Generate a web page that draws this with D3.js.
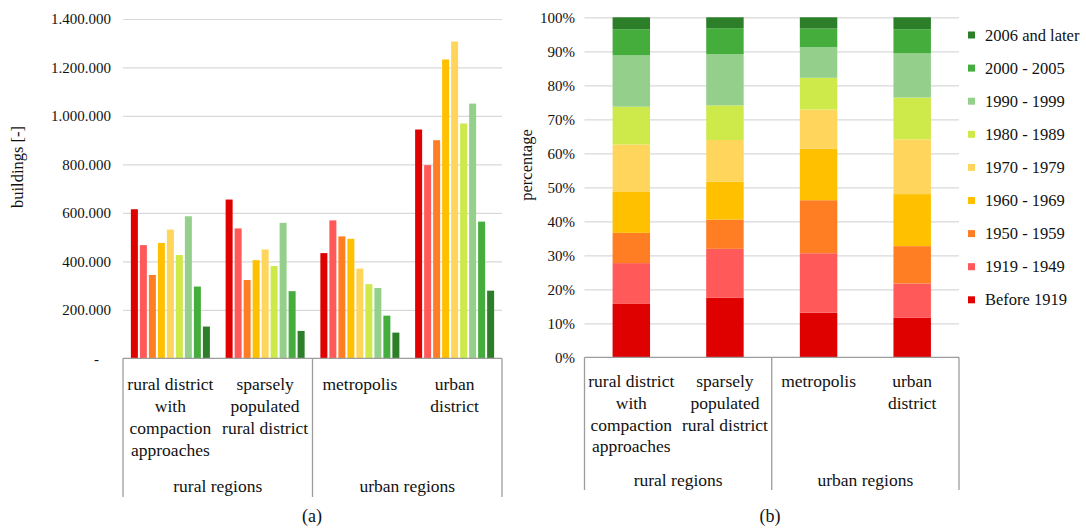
<html>
<head>
<meta charset="utf-8">
<title>Buildings by construction period</title>
<script src="https://cdn.jsdelivr.net/npm/d3@7"></script>
<style>
  body { margin: 0; background: #fff; }
  text { font-family: "Liberation Serif", "DejaVu Serif", serif; fill: #111; }
  .grid line { stroke: #d9d9d9; stroke-width: 1.2; }
  .grid path { stroke: none; }
  .ticks path, .ticks line { stroke: none; }
  .frame { stroke: #9d9d9d; stroke-width: 1.3; fill: none; }
</style>
</head>
<body>
<script>
// ---- data ----
var periods = ["Before 1919","1919 - 1949","1950 - 1959","1960 - 1969","1970 - 1979","1980 - 1989","1990 - 1999","2000 - 2005","2006 and later"];
var periodColors = ["#df0000","#ff5959","#ff7e24","#ffc000","#ffd65b","#cde94a","#94d08b","#45ad3c","#2c7e29"];
var regions = ["rural district with compaction approaches","sparsely populated rural district","metropolis","urban district"];
var regionLines = [["rural district","with","compaction","approaches"],["sparsely","populated","rural district"],["metropolis"],["urban","district"]];
var regionGroups = ["rural regions","urban regions"];

// buildings [-] per period (a)
var ruralCompaction = [615000, 467000, 344000, 476000, 531000, 426000, 586000, 296000, 131000];
var sparselyPopulated = [655000, 536000, 323000, 405000, 449000, 381000, 559000, 277000, 113000];
var metropolis = [434000, 569000, 503000, 493000, 370000, 306000, 290000, 176000, 106000];
var urbanDistrict = [944000, 797000, 900000, 1233000, 1307000, 969000, 1051000, 564000, 279000];

// percentage per period (b)
var shareRuralCompaction = [15.7, 12.0, 8.9, 12.2, 13.8, 11.1, 15.1, 7.7, 3.5];
var shareSparselyPopulated = [17.5, 14.4, 8.6, 11.2, 12.2, 10.2, 15.1, 7.6, 3.2];
var shareMetropolis = [13.1, 17.5, 15.6, 15.2, 11.5, 9.3, 9.0, 5.5, 3.3];
var shareUrbanDistrict = [11.6, 10.1, 11.0, 15.3, 16.1, 12.3, 13.0, 7.1, 3.5];

var yTicksA = [0, 200000, 400000, 600000, 800000, 1000000, 1200000, 1400000];
var yTicksB = [0, 0.1, 0.2, 0.3, 0.4, 0.5, 0.6, 0.7, 0.8, 0.9, 1.0];

var counts = [ruralCompaction, sparselyPopulated, metropolis, urbanDistrict];
var shares = [shareRuralCompaction, shareSparselyPopulated, shareMetropolis, shareUrbanDistrict];

var width = 1086, height = 532;
var svg = d3.select("body").append("svg").attr("width", width).attr("height", height);
var serif = "'Liberation Serif', 'DejaVu Serif', serif";

var color = d3.scaleOrdinal().domain(periods).range(periodColors);
var deFormat = d3.formatLocale({decimal: ",", thousands: ".", grouping: [3], currency: ["", ""]}).format(",.0f");

/************* (a) grouped bars *************/
var A = {left: 123, right: 502, top: 19, bottom: 358.3};
var x0 = d3.scaleBand().domain(regions).range([A.left, A.right]);
var x1 = d3.scaleBand().domain(periods).range([0, 79]).paddingInner(2 / 9);
var yA = d3.scaleLinear().domain([0, 1400000]).range([A.bottom, A.top]);

svg.append("g").attr("class", "grid")
  .attr("transform", "translate(" + A.left + ",0)")
  .call(d3.axisLeft(yA).tickValues(yTicksA.slice(1)).tickSize(-(A.right - A.left)).tickFormat(""));

svg.append("g").attr("class", "ticks")
  .attr("transform", "translate(" + (A.left - 12) + ",0)")
  .call(d3.axisLeft(yA).tickValues(yTicksA).tickSize(0).tickPadding(0)
    .tickFormat(function(d){ return d === 0 ? "-" : deFormat(d); }))
  .call(function(g){
    g.attr("font-family", serif);
    g.selectAll("text").style("font-size", "15px").style("font-family", serif).attr("fill", "#111");
    g.selectAll("text").filter(function(d){ return d === 0; }).attr("dx", -12);
  });

var groupsA = svg.append("g").selectAll("g")
  .data(regions).enter().append("g")
  .attr("transform", function(d){ return "translate(" + (x0(d) + (x0.bandwidth() - 79) / 2) + ",0)"; });

groupsA.selectAll("rect")
  .data(function(d, i){ return counts[i].map(function(v, j){ return {period: periods[j], value: v}; }); })
  .enter().append("rect")
  .attr("x", function(d){ return x1(d.period); })
  .attr("width", x1.bandwidth())
  .attr("y", function(d){ return yA(d.value); })
  .attr("height", function(d){ return yA(0) - yA(d.value); })
  .attr("fill", function(d){ return color(d.period); });

svg.append("text")
  .attr("transform", "translate(23,167) rotate(-90)")
  .attr("text-anchor", "middle")
  .style("font-size", "16.5px")
  .text("buildings [-]");

/************* (b) 100% stacked *************/
var B = {left: 584.5, right: 959, top: 17.3, bottom: 357.3};
var xB = d3.scaleBand().domain(regions).range([B.left, B.right]).paddingInner(0.6).paddingOuter(0.3);
var yB = d3.scaleLinear().domain([0, 1]).range([B.bottom, B.top]);

svg.append("g").attr("class", "grid")
  .attr("transform", "translate(" + B.left + ",0)")
  .call(d3.axisLeft(yB).tickValues(yTicksB.slice(1)).tickSize(-(B.right - B.left)).tickFormat(""));

svg.append("g").attr("class", "ticks")
  .attr("transform", "translate(575,0)")
  .call(d3.axisLeft(yB).tickValues(yTicksB).tickSize(0).tickPadding(0).tickFormat(d3.format(".0%")))
  .call(function(g){
    g.attr("font-family", serif);
    g.selectAll("text").style("font-size", "15px").style("font-family", serif).attr("fill", "#111");
  });

var table = regions.map(function(r, i){
  var row = {region: r};
  periods.forEach(function(p, j){ row[p] = shares[i][j] / 100; });
  return row;
});
var stacked = d3.stack().keys(periods)(table);

svg.append("g").selectAll("g")
  .data(stacked).enter().append("g")
  .attr("fill", function(d){ return color(d.key); })
  .selectAll("rect")
  .data(function(d){ return d; })
  .enter().append("rect")
  .attr("x", function(d){ return xB(d.data.region); })
  .attr("width", xB.bandwidth())
  .attr("y", function(d){ return yB(d[1]); })
  .attr("height", function(d){ return yB(d[0]) - yB(d[1]); });

svg.append("text")
  .attr("transform", "translate(532,165) rotate(-90)")
  .attr("text-anchor", "middle")
  .style("font-size", "16.5px")
  .text("percentage");

// legend
var legend = svg.append("g").selectAll("g")
  .data(periods.slice().reverse()).enter().append("g")
  .attr("transform", function(d, i){ return "translate(968," + (35 + i * 33.1) + ")"; });
legend.append("rect").attr("x", 0).attr("y", -3.5).attr("width", 7).attr("height", 7)
  .attr("fill", function(d){ return color(d); });
legend.append("text").attr("x", 17).attr("y", 5.5).style("font-size", "16.5px").text(function(d){ return d; });

/************* multi-level category axes *************/
function categoryAxis(left, right, base, lineY, lineStep, groupY, endY, caption, capX) {
  var g = svg.append("g");
  var step = (right - left) / regions.length;
  g.append("line").attr("class", "frame").attr("x1", left).attr("x2", right).attr("y1", base).attr("y2", base);
  [left, left + 2 * step, right].forEach(function(x){
    g.append("line").attr("class", "frame").attr("x1", x).attr("x2", x).attr("y1", base).attr("y2", endY);
  });
  regions.forEach(function(r, i){
    var cx = left + step * (i + 0.5);
    var t = g.append("text").attr("text-anchor", "middle").style("font-size", "17.5px");
    regionLines[i].forEach(function(line, k){
      t.append("tspan").attr("x", cx).attr("y", lineY + k * lineStep + 5.5).text(line);
    });
  });
  regionGroups.forEach(function(grp, i){
    g.append("text").attr("text-anchor", "middle").style("font-size", "17.5px")
      .attr("x", left + step * (2 * i + 1)).attr("y", groupY + 5.5).text(grp);
  });
  g.append("text").attr("text-anchor", "middle").style("font-size", "18px")
    .attr("x", capX).attr("y", 522).text(caption);
}
categoryAxis(A.left, A.right, A.bottom, 384, 22, 486, 497, "(a)", 312);
categoryAxis(B.left, B.right, B.bottom, 381.7, 21.7, 480, 490, "(b)", 770);
</script>
</body>
</html>
